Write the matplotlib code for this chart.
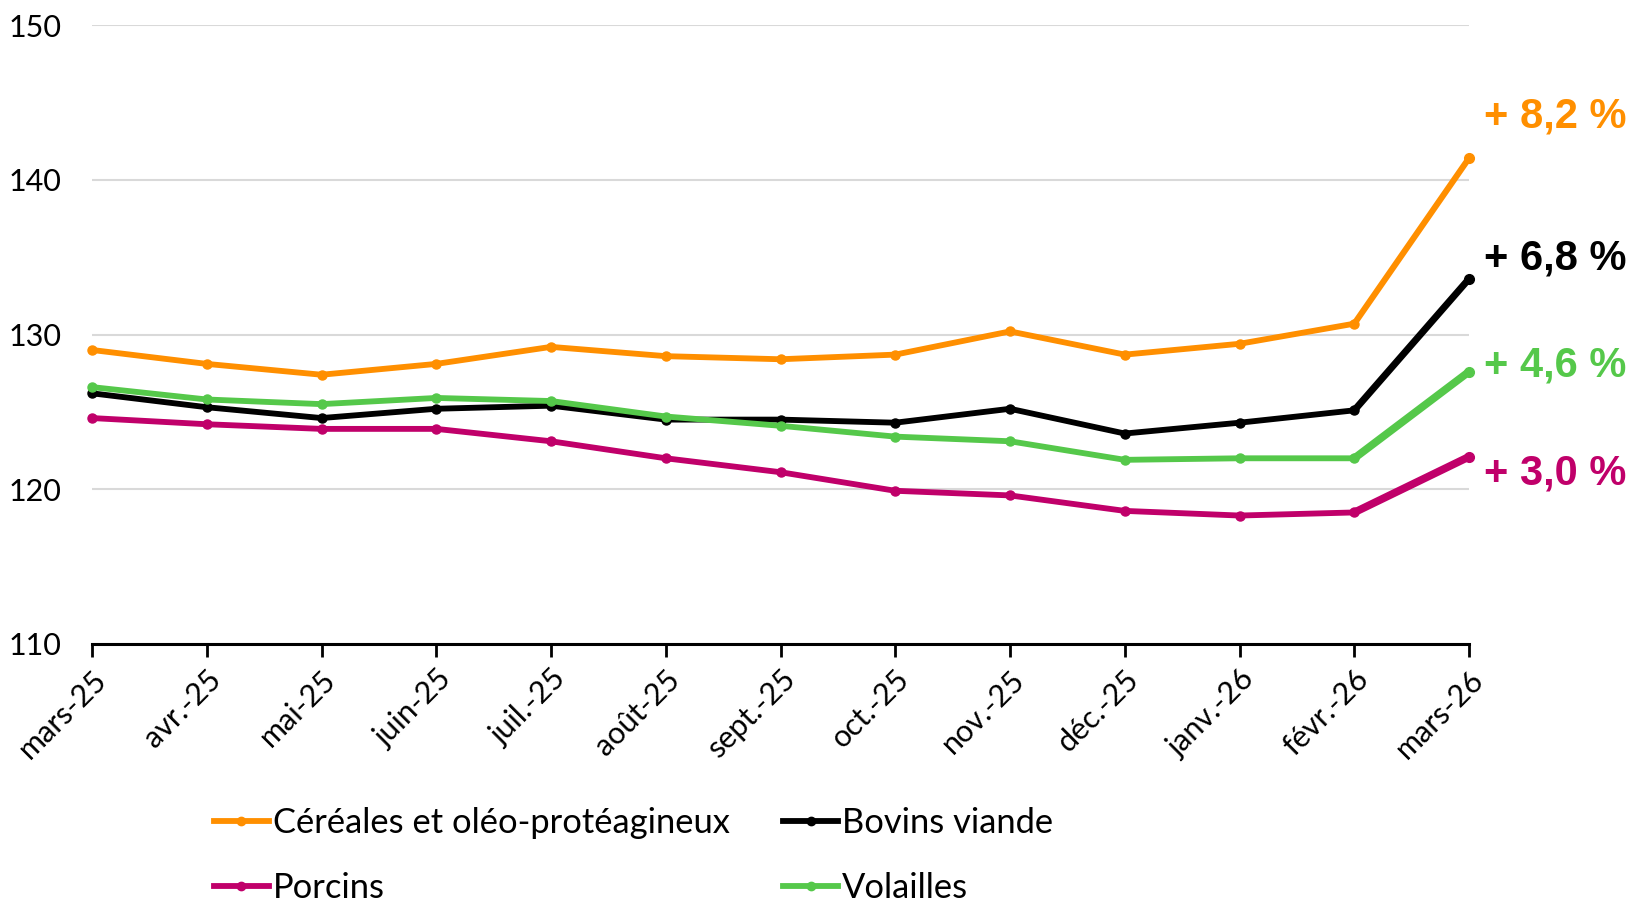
import matplotlib
matplotlib.use("Agg")
import matplotlib.pyplot as plt
from matplotlib.lines import Line2D

plt.rcParams['font.family'] = ['Liberation Sans Narrow', 'Lato', 'DejaVu Sans']

months = ["mars-25", "avr.-25", "mai-25", "juin-25", "juil.-25", "août-25", "sept.-25",
          "oct.-25", "nov.-25", "déc.-25", "janv.-26", "févr.-26", "mars-26"]
cereales = [129.0, 128.1, 127.4, 128.1, 129.2, 128.6, 128.4, 128.7, 130.2, 128.7, 129.4, 130.7, 141.4]
bovins = [126.2, 125.3, 124.6, 125.2, 125.4, 124.5, 124.5, 124.3, 125.2, 123.6, 124.3, 125.1, 133.6]
volailles = [126.6, 125.8, 125.5, 125.9, 125.7, 124.7, 124.1, 123.4, 123.1, 121.9, 122.0, 122.0, 127.6]
porcins = [124.6, 124.2, 123.9, 123.9, 123.1, 122.0, 121.1, 119.9, 119.6, 118.6, 118.3, 118.5, 122.1]

labels = ["Céréales et oléo-protéagineux", "Bovins viande", "Volailles", "Porcins"]
pct_labels = ["+ 8,2 %", "+ 6,8 %", "+ 4,6 %", "+ 3,0 %"]
pct_y = [144.1, 134.9, 128.0, 121.0]

colors = ["#FF8F00", "#000000", "#55C84A", "#C0006A"]
series = [cereales, bovins, volailles, porcins]
last_lw = [4.4, 5.0, 5.6, 5.6]

fig = plt.figure(figsize=(16.37, 9.07), dpi=100)
ax = fig.add_axes([0.0562, 0.29, 0.8412, 0.6824])

x = list(range(len(months)))
handles = {}
for s, c, lab, lw2 in zip(series, colors, labels, last_lw):
    ax.plot(x[:-1], s[:-1], color=c, lw=4.2, marker='o', markersize=6.5,
            solid_joinstyle='round', solid_capstyle='round', zorder=3, clip_on=False)
    ax.plot(x[-2:], s[-2:], color=c, lw=lw2, solid_capstyle='round', zorder=3, clip_on=False)
    ax.plot([x[-1]], [s[-1]], 'o', color=c, markersize=7, zorder=3, clip_on=False)
    handles[lab] = Line2D([], [], color=c, lw=4.2, marker='o', markersize=6)

for t, yv, c in zip(pct_labels, pct_y, colors):
    ax.text(1.011, yv, t, transform=ax.get_yaxis_transform(), color=c,
            fontsize=30, fontweight='bold', family='Liberation Sans',
            va='center', ha='left', clip_on=False)

ax.set_xlim(0, len(months) - 1)
ax.set_ylim(110, 150)
ax.set_yticks([110, 120, 130, 140, 150])
ax.set_xticks(x)
ax.set_xticklabels(months, rotation=45, ha='right', rotation_mode='anchor', fontsize=22)
ax.tick_params(axis='y', length=0, pad=22, labelsize=22)
ax.tick_params(axis='x', length=9, width=2, direction='out', pad=6)
ax.grid(axis='y', color='#d9d9d9', lw=1.5, zorder=0)
for sp in ['top', 'right', 'left']:
    ax.spines[sp].set_visible(False)
ax.spines['bottom'].set_linewidth(2.2)
ax.spines['bottom'].set_zorder(4)

order = ["Céréales et oléo-protéagineux", "Porcins", "Bovins viande", "Volailles"]
fig.legend([handles[o] for o in order], order, ncol=2, loc='center left',
           bbox_to_anchor=(0.1305, 0.057), frameon=False, fontsize=24.8,
           handlelength=1.6, handletextpad=0.12, columnspacing=1.55,
           labelspacing=0.95, borderpad=0, borderaxespad=0)

fig.savefig("out.png", dpi=100)
